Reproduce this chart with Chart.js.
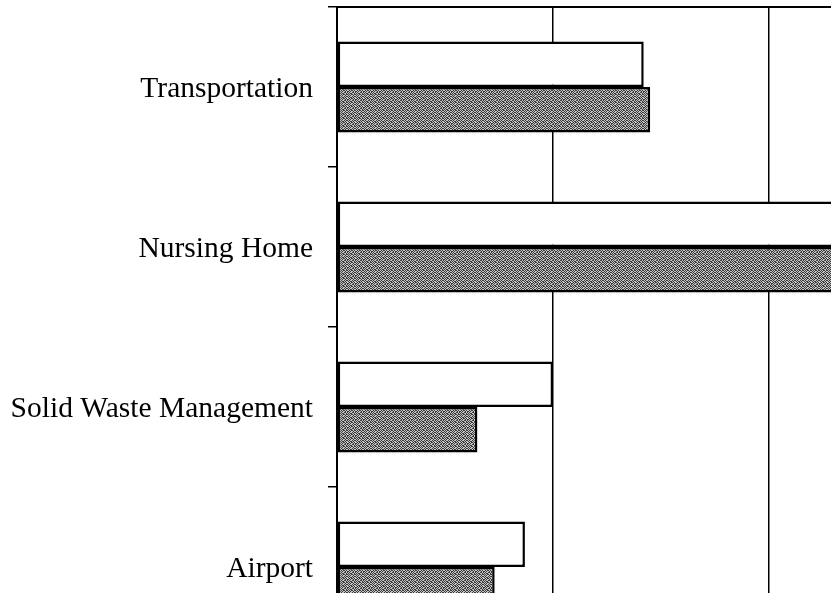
<!DOCTYPE html>
<html>
<head>
<meta charset="utf-8">
<script src="https://cdn.jsdelivr.net/npm/chart.js@4"></script>
<style>
  html, body { margin: 0; padding: 0; background: #fff; }
  #wrap { width: 831px; height: 593px; overflow: hidden; position: relative; }
  canvas { display: block; }
</style>
</head>
<body>
<div id="wrap">
  <canvas id="bar-chart" width="985" height="647"></canvas>
</div>
<script>
const categories = ['Transportation', 'Nursing Home', 'Solid Waste Management', 'Airport'];
const firstSeries = [14.2, 27, 10.0, 8.7];
const secondSeries = [14.5, 27.5, 6.5, 7.3];
const xTicks = [0, 10, 20, 30];

// dithered grey fill like the scanned original (fixed 8x8 tile)
const tile = [
  '10110100',
  '01001011',
  '10100101',
  '01011010',
  '11010100',
  '00101011',
  '10110101',
  '01001010'
];
function ditherPattern() {
  const c = document.createElement('canvas');
  c.width = 8;
  c.height = 8;
  const g = c.getContext('2d');
  g.fillStyle = '#c2c2c2';
  g.fillRect(0, 0, 8, 8);
  g.fillStyle = '#3a3a3a';
  tile.forEach((row, y) => {
    [...row].forEach((bit, x) => {
      if (bit === '1') g.fillRect(x, y, 1, 1);
    });
  });
  return g.createPattern(c, 'repeat');
}

const data = {
  labels: categories,
  datasets: [{
    data: firstSeries,
    backgroundColor: '#ffffff',
    borderColor: '#000000',
    borderWidth: 2.5,
    borderSkipped: false,
  }, {
    data: secondSeries,
    backgroundColor: ditherPattern(),
    borderColor: '#000000',
    borderWidth: 2.5,
    borderSkipped: false,
  }]
};

const config = {
  type: 'bar',
  data: data,
  options: {
    indexAxis: 'y',
    responsive: false,
    animation: false,
    layout: { padding: { top: 7, left: 0, right: 0, bottom: 0 } },
    plugins: { legend: { display: false }, tooltip: { enabled: false } },
    datasets: { bar: { categoryPercentage: 0.57, barPercentage: 1 } },
    scales: {
      x: {
        position: 'top',
        min: xTicks[0],
        max: xTicks[xTicks.length - 1],
        afterBuildTicks: (axis) => { axis.ticks = xTicks.map(v => ({ value: v })); },
        afterFit: (axis) => { axis.height = 0; axis.paddingLeft = 0; axis.paddingRight = 0; },
        ticks: { display: false },
        grid: { color: '#000000', lineWidth: 1.5, drawTicks: false },
        border: { display: true, color: '#000000', width: 2 }
      },
      y: {
        afterFit: (axis) => { axis.width = 337; axis.paddingTop = 0; axis.paddingBottom = 0; },
        ticks: {
          color: '#000000',
          padding: 15,
          labelOffset: 2,
          font: { family: '"Liberation Serif", "Times New Roman", serif', size: 29.5 }
        },
        grid: { offset: true, drawOnChartArea: false, color: '#000000', lineWidth: 1.5, tickLength: 9 },
        border: { display: true, color: '#000000', width: 2 }
      }
    }
  }
};

const ctx = document.getElementById('bar-chart');

new Chart(ctx, config);
</script>
</body>
</html>
